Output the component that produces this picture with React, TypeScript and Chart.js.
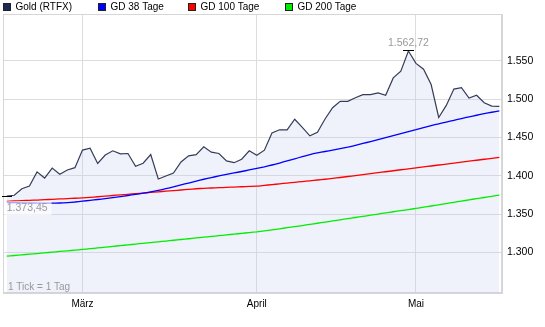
import React, { useEffect, useRef } from 'react';
import { Chart, registerables } from 'chart.js';

Chart.register(...registerables);

// Daily values (1 Tick = 1 Tag), index 0 = first trading day shown
const gold = [
  1373.45, 1374.5, 1383.0, 1386.5, 1405.0, 1397.0, 1410.0, 1402.0, 1407.5, 1410.5,
  1433.4, 1436.0, 1416.0, 1427.0, 1432.5, 1428.5, 1429.0, 1412.4, 1416.3, 1427.6,
  1395.7, 1399.6, 1403.6, 1418.0, 1426.0, 1427.6, 1437.8, 1430.8, 1429.0, 1419.3,
  1417.0, 1421.5, 1432.5, 1426.8, 1433.4, 1455.8, 1460.0, 1459.7, 1473.7, 1463.0,
  1452.0, 1456.6, 1474.0, 1488.7, 1497.0, 1497.0, 1501.8, 1505.8, 1505.8, 1508.0,
  1505.0, 1527.6, 1536.4, 1562.72, 1546.6, 1539.0, 1519.0, 1476.0, 1491.7, 1513.0,
  1515.0, 1501.3, 1505.0, 1495.3, 1490.8, 1490.4,
];

const gd38 = [
  1365.2, 1365.0, 1364.7, 1364.5, 1364.3, 1364.2, 1364.2, 1364.4, 1364.9, 1365.7,
  1366.8, 1367.9, 1369.0, 1370.2, 1371.5, 1372.8, 1374.2, 1375.7, 1377.2, 1378.9,
  1380.9, 1383.1, 1385.5, 1388.0, 1390.5, 1393.0, 1395.4, 1397.6, 1399.7, 1401.7,
  1403.6, 1405.5, 1407.5, 1409.5, 1411.6, 1414.0, 1416.6, 1419.3, 1422.0, 1424.9,
  1427.5, 1429.7, 1431.6, 1433.4, 1435.3, 1437.3, 1439.6, 1442.1, 1444.6, 1447.1,
  1449.7, 1452.3, 1454.9, 1457.5, 1460.0, 1462.8, 1465.4, 1467.8, 1470.0, 1472.3,
  1474.6, 1476.8, 1478.9, 1480.9, 1482.8, 1484.6,
];

const gd100 = [
  1366.5, 1367.0, 1367.4, 1367.9, 1368.3, 1368.8, 1369.2, 1369.7, 1370.1, 1370.6,
  1371.1, 1371.8, 1372.6, 1373.4, 1374.2, 1375.0, 1375.8, 1376.6, 1377.4, 1378.2,
  1379.0, 1379.8, 1380.6, 1381.4, 1382.2, 1383.0, 1383.6, 1384.0, 1384.4, 1384.8,
  1385.2, 1385.6, 1386.0, 1386.4, 1387.4, 1388.4, 1389.4, 1390.4, 1391.4, 1392.4,
  1393.4, 1394.4, 1395.4, 1396.5, 1397.7, 1399.0, 1400.2, 1401.5, 1402.7, 1404.0,
  1405.2, 1406.5, 1407.8, 1409.0, 1410.3, 1411.5, 1412.7, 1414.0, 1415.2, 1416.5,
  1417.7, 1419.0, 1420.2, 1421.5, 1422.7, 1424.0,
];

const gd200 = [
  1295.0, 1295.9, 1296.8, 1297.6, 1298.5, 1299.4, 1300.3, 1301.2, 1302.0, 1302.9,
  1303.8, 1304.8, 1305.8, 1306.8, 1307.8, 1308.8, 1309.8, 1310.8, 1311.8, 1312.8,
  1313.8, 1314.8, 1315.8, 1316.8, 1317.8, 1318.8, 1319.8, 1320.8, 1321.8, 1322.8,
  1323.8, 1324.8, 1325.8, 1326.8, 1328.1, 1329.4, 1330.8, 1332.2, 1333.6, 1335.0,
  1336.5, 1338.0, 1339.5, 1341.0, 1342.5, 1344.0, 1345.5, 1347.0, 1348.5, 1350.0,
  1351.5, 1353.0, 1354.5, 1355.9, 1357.3, 1358.9, 1360.5, 1362.1, 1363.7, 1365.3,
  1366.9, 1368.5, 1370.1, 1371.6, 1373.2, 1374.7,
];

const monthTickIndex = [10, 33, 54];
const monthTickLabels = ['März', 'April', 'Mai'];
const yTickValues = [1300, 1350, 1400, 1450, 1500, 1550];

const seriesNames = ['Gold (RTFX)', 'GD 38 Tage', 'GD 100 Tage', 'GD 200 Tage'];
const seriesColors = ['#1f2a50', '#0000ff', '#ff0000', '#00ee00'];
const goldLineColor = '#353c58';
const footnote = '1 Tick = 1 Tag';

const FONT = '"Liberation Sans", Arial, sans-serif';

function fmtThousands(v: number): string {
  const n = Math.round(v);
  const th = Math.floor(n / 1000);
  const rest = String(n % 1000).padStart(3, '0');
  return th > 0 ? `${th}.${rest}` : String(n);
}

function fmtPrice(v: number): string {
  const cents = Math.round(v * 100);
  const int = Math.floor(cents / 100);
  const dec = String(cents % 100).padStart(2, '0');
  return `${fmtThousands(int)},${dec}`;
}

const framePlugin = {
  id: 'frame',
  beforeDatasetsDraw(chart: any) {
    const { ctx, chartArea: a } = chart;
    ctx.save();
    ctx.strokeStyle = '#d6d6d6';
    ctx.lineWidth = 1;
    ctx.strokeRect(Math.round(a.left) + 0.5, Math.round(a.top) + 0.5, Math.round(a.right - a.left) - 1, Math.round(a.bottom - a.top) - 1);
    ctx.restore();
  },
};

const legendPlugin = {
  id: 'customLegend',
  afterDraw(chart: any) {
    const { ctx } = chart;
    const xs = [3, 98, 188, 285];
    ctx.save();
    ctx.font = `10px ${FONT}`;
    ctx.textBaseline = 'middle';
    ctx.textAlign = 'left';
    seriesNames.forEach((name, i) => {
      const x = xs[i];
      ctx.fillStyle = seriesColors[i];
      ctx.fillRect(x, 3, 8, 8);
      ctx.strokeStyle = '#222';
      ctx.lineWidth = 1;
      ctx.strokeRect(x + 0.5, 3.5, 7, 7);
      ctx.fillStyle = '#000';
      ctx.fillText(name, x + 12.5, 7.5);
    });
    ctx.restore();
  },
};

const annotationPlugin = {
  id: 'annotations',
  afterDatasetsDraw(chart: any) {
    const { ctx, chartArea: a } = chart;
    const xs = chart.scales.x;
    const ys = chart.scales.y;
    let maxI = 0;
    let minI = 0;
    gold.forEach((v, i) => {
      if (v > gold[maxI]) maxI = i;
      if (v < gold[minI]) minI = i;
    });
    const px = xs.getPixelForValue(maxI);
    const py = ys.getPixelForValue(gold[maxI]);
    const mx = xs.getPixelForValue(minI);
    const my = ys.getPixelForValue(gold[minI]);
    ctx.save();
    // markers
    ctx.strokeStyle = '#000';
    ctx.lineWidth = 1;
    ctx.beginPath();
    ctx.moveTo(Math.round(px) - 5, Math.round(py) - 0.5);
    ctx.lineTo(Math.round(px) + 6, Math.round(py) - 0.5);
    ctx.moveTo(Math.round(mx) - 5, Math.round(my) + 0.5);
    ctx.lineTo(Math.round(mx) + 5, Math.round(my) + 0.5);
    ctx.stroke();
    ctx.font = `10.5px ${FONT}`;
    ctx.textBaseline = 'middle';
    // max label
    ctx.fillStyle = '#999';
    ctx.textAlign = 'center';
    ctx.fillText(fmtPrice(gold[maxI]), px, py - 7.5);
    // min label with light background
    const minText = fmtPrice(gold[minI]);
    const w = ctx.measureText(minText).width;
    ctx.fillStyle = 'rgba(255,255,255,0.65)';
    ctx.fillRect(mx - 2, my + 5, w + 6, 14);
    ctx.fillStyle = '#999';
    ctx.textAlign = 'left';
    ctx.fillText(minText, mx, my + 12);
    // footnote
    ctx.font = `10px ${FONT}`;
    ctx.fillText(footnote, a.left + 5, a.bottom - 6);
    ctx.restore();
  },
};

export default function App() {
  const ref = useRef<HTMLCanvasElement | null>(null);

  useEffect(() => {
    document.body.style.margin = '0';
    const canvas = ref.current;
    if (!canvas) return;
    const toXY = (arr: number[]) => arr.map((v, i) => ({ x: i, y: v }));
    const chart = new Chart(canvas, {
      type: 'line',
      data: {
        datasets: [
          { label: seriesNames[1], data: toXY(gd38), borderColor: seriesColors[1], borderWidth: 1.3, pointRadius: 0, fill: false, tension: 0.2 },
          { label: seriesNames[2], data: toXY(gd100), borderColor: seriesColors[2], borderWidth: 1.3, pointRadius: 0, fill: false, tension: 0.2 },
          { label: seriesNames[3], data: toXY(gd200), borderColor: seriesColors[3], borderWidth: 1.3, pointRadius: 0, fill: false, tension: 0.2 },
          {
            label: seriesNames[0],
            data: toXY(gold),
            borderColor: goldLineColor,
            borderWidth: 1.2,
            pointRadius: 0,
            fill: 'start',
            backgroundColor: 'rgba(190,205,235,0.25)',
            tension: 0,
          },
        ],
      },
      options: {
        animation: false,
        responsive: false,
        devicePixelRatio: 1,
        layout: { padding: { left: 3, top: 14, right: 0, bottom: 0 } },
        plugins: {
          legend: { display: false },
          tooltip: { enabled: false },
        },
        scales: {
          x: {
            type: 'linear',
            min: -0.49,
            max: 65.35,
            afterBuildTicks: (s: any) => {
              s.ticks = monthTickIndex.map((v) => ({ value: v }));
            },
            afterFit: (s: any) => {
              s.height = 34;
            },
            ticks: {
              autoSkip: false,
              maxRotation: 0,
              padding: 5,
              color: '#000',
              font: { family: FONT, size: 10 },
              callback: (_v: any, i: number) => monthTickLabels[i],
            },
            grid: { color: '#dcdcdc', drawTicks: false },
            border: { display: true, color: '#d6d6d6' },
          },
          y: {
            type: 'linear',
            position: 'right',
            min: 1247,
            max: 1611,
            afterBuildTicks: (s: any) => {
              s.ticks = yTickValues.map((v) => ({ value: v }));
            },
            afterFit: (s: any) => {
              s.width = 43;
            },
            ticks: {
              padding: 5,
              color: '#000',
              font: { family: FONT, size: 10.5 },
              callback: (v: any) => fmtThousands(Number(v)),
            },
            grid: { color: '#dcdcdc', drawTicks: false },
            border: { display: true, color: '#d6d6d6' },
          },
        },
      },
      plugins: [framePlugin, legendPlugin, annotationPlugin],
    } as any);
    return () => chart.destroy();
  }, []);

  return <canvas ref={ref} width={545} height={327} style={{ display: 'block', width: 545, height: 327 }} />;
}
